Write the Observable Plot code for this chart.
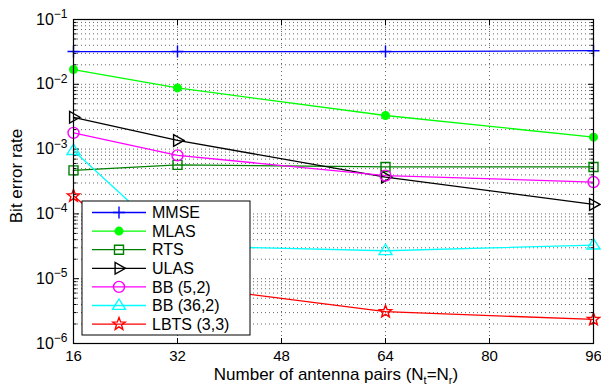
<!DOCTYPE html>
<html><head><meta charset="utf-8">
<script src="https://cdn.jsdelivr.net/npm/d3@7"></script>
<script src="https://cdn.jsdelivr.net/npm/@observablehq/plot@0.6"></script>
<style>
body{margin:0;background:#fff;}
#chart svg{display:block;}
</style>
</head><body><div id="chart"></div>
<script>
// ---- data ----
const antennaPairs = [16, 32, 64, 96];
const mmse  = [0.032, 0.032, 0.032, 0.033];
const mlas  = [0.0169, 0.0088, 0.0033, 0.00153];
const rts   = [4.7e-4, 5.7e-4, 5.3e-4, 5.3e-4];
const ulas  = [3.1e-3, 1.36e-3, 3.7e-4, 1.4e-4];
const bb52  = [1.78e-3, 8.0e-4, 3.9e-4, 3.1e-4];
const bb362 = [9.5e-4, 3.2e-5, 2.7e-5, 3.3e-5];
const lbts  = [1.9e-4, 8.0e-6, 3.1e-6, 2.35e-6];
const seriesNames = ["MMSE", "MLAS", "RTS", "ULAS", "BB (5,2)", "BB (36,2)", "LBTS (3,3)"];
const xTicks = [16, 32, 48, 64, 80, 96];
const yTicks = [1e-6, 1e-5, 1e-4, 1e-3, 1e-2, 1e-1];

// ---- styling ----
const colors = ["#0000ff", "#00ff00", "#008000", "#000000", "#ff00ff", "#00ffff", "#ff0000"];
const values = [mmse, mlas, rts, ulas, bb52, bb362, lbts];

const sym = {
  plus: {draw(c, s){const r=Math.sqrt(s/Math.PI); c.moveTo(-r,0); c.lineTo(r,0); c.moveTo(0,-r); c.lineTo(0,r);}},
  dot: {draw(c, s){const r=Math.sqrt(s/Math.PI); c.moveTo(r,0); c.arc(0,0,r,0,2*Math.PI);}},
  square: {draw(c, s){const r=Math.sqrt(s/Math.PI); c.rect(-r,-r,2*r,2*r);}},
  tright: {draw(c, s){const r=Math.sqrt(s/Math.PI); c.moveTo(r,0); c.lineTo(-r*0.6,-r*0.9); c.lineTo(-r*0.6,r*0.9); c.closePath();}},
  circle: {draw(c, s){const r=Math.sqrt(s/Math.PI); c.moveTo(r,0); c.arc(0,0,r,0,2*Math.PI);}},
  tup: {draw(c, s){const r=Math.sqrt(s/Math.PI); c.moveTo(0,-r); c.lineTo(r*1.0,r*0.6); c.lineTo(-r*1.0,r*0.6); c.closePath();}},
  star: {draw(c, s){const r=Math.sqrt(s/Math.PI); const ri=r*0.42;
    for(let k=0;k<10;k++){const a=-Math.PI/2+k*Math.PI/5; const rr=k%2?ri:r; const px=rr*Math.cos(a), py=rr*Math.sin(a); k?c.lineTo(px,py):c.moveTo(px,py);} c.closePath();}}
};
const markers = [
  {symbol: sym.plus, r: 6, fill: "none"},
  {symbol: sym.dot, r: 3.8, fill: "fill"},
  {symbol: sym.square, r: 4.5, fill: "none"},
  {symbol: sym.tright, r: 6.5, fill: "none"},
  {symbol: sym.circle, r: 5.5, fill: "none"},
  {symbol: sym.tup, r: 6.5, fill: "none"},
  {symbol: sym.star, r: 6.5, fill: "none"}
];

const rows = seriesNames.map((name, i) => antennaPairs.map((x, j) => ({name, x, y: values[i][j]})));

const minor = [];
for (let e = -6; e <= -2; e++) for (let m = 2; m <= 9; m++) minor.push(m * Math.pow(10, e));
const gridY = minor.concat([1e-5, 1e-4, 1e-3, 1e-2]);
const gridX = [32, 48, 64, 80];

const marks = [
  Plot.ruleY(gridY, {y: d => d, stroke: "#000", strokeOpacity: 0.75, strokeWidth: 0.8, strokeDasharray: "1,3"}),
  Plot.ruleX(gridX, {x: d => d, stroke: "#000", strokeOpacity: 0.75, strokeWidth: 0.8, strokeDasharray: "1,3"}),
  Plot.axisX({ticks: xTicks, tickSize: -5, tickPadding: 12, tickFormat: d => String(d), fontSize: 15, label: null}),
  Plot.axisX({anchor: "top", ticks: xTicks, tickSize: -5, tickFormat: () => "", label: null}),
  Plot.axisY({ticks: yTicks, tickSize: -6, tickPadding: 12, tickFormat: d => "10^" + Math.round(Math.log10(d)), fontSize: 16, label: null}),
  Plot.axisY({ticks: minor, tickSize: -3.5, tickFormat: () => "", label: null}),
  Plot.axisY({anchor: "right", ticks: yTicks, tickSize: -6, tickFormat: () => "", label: null}),
  Plot.axisY({anchor: "right", ticks: minor, tickSize: -3.5, tickFormat: () => "", label: null})
];
rows.forEach((data, i) => {
  marks.push(Plot.line(data, {x: "x", y: "y", stroke: colors[i], strokeWidth: 1.3}));
});
rows.forEach((data, i) => {
  const mk = markers[i];
  marks.push(Plot.dot(data, {x: "x", y: "y", symbol: () => mk.symbol, r: mk.r,
    stroke: colors[i], strokeWidth: 1.4, fill: mk.fill === "fill" ? colors[i] : "none"}));
});
marks.push(Plot.frame({stroke: "#000", strokeWidth: 1.2}));

const chart = Plot.plot({
  width: 601, height: 385,
  marginLeft: 73, marginRight: 8, marginTop: 19, marginBottom: 42,
  style: {fontFamily: "'Liberation Sans', Arial, sans-serif", color: "#000", background: "#fff"},
  x: {domain: [16, 96]},
  y: {type: "log", domain: [1e-6, 1e-1]},
  symbol: {type: "identity"},
  marks
});
document.getElementById("chart").appendChild(chart);

const svg = d3.select(chart);
const ff = "'Liberation Sans', Arial, sans-serif";

// superscripted y tick labels
svg.selectAll('g[aria-label="y-axis tick label"] text').each(function(){
  const t = this.textContent;
  const m = t.match(/10\^(-?\d+)/);
  if (!m) return;
  const el = d3.select(this);
  el.text(null);
  el.append("tspan").text("10");
  el.append("tspan").attr("dy", "-0.55em").attr("font-size", 12).text("\u2212" + Math.abs(+m[1]));
});

// axis titles
svg.append("text").attr("x", 336).attr("y", 380).attr("text-anchor", "middle")
  .attr("font-family", ff).attr("font-size", 17).attr("fill", "#000")
  .call(t => {
    t.append("tspan").text("Number of antenna pairs (N");
    t.append("tspan").attr("font-size", 11).attr("dy", 4).text("t");
    t.append("tspan").attr("dy", -4).text("=N");
    t.append("tspan").attr("font-size", 11).attr("dy", 4).text("r");
    t.append("tspan").attr("dy", -4).text(")");
  });
svg.append("text").attr("transform", "translate(22,176) rotate(-90)").attr("text-anchor", "middle")
  .attr("font-family", ff).attr("font-size", 17).attr("fill", "#000").text("Bit error rate");

// legend
const lg = svg.append("g");
lg.append("rect").attr("x", 82).attr("y", 201).attr("width", 168).attr("height", 134)
  .attr("fill", "#fff").attr("stroke", "#000").attr("stroke-width", 1);
seriesNames.forEach((name, i) => {
  const y = 212.5 + i * 18.6;
  lg.append("line").attr("x1", 92).attr("x2", 146).attr("y1", y).attr("y2", y)
    .attr("stroke", colors[i]).attr("stroke-width", 1.3);
  const mk = markers[i];
  lg.append("path").attr("transform", `translate(119,${y})`)
    .attr("d", d3.symbol(mk.symbol, Math.PI * mk.r * mk.r)())
    .attr("stroke", colors[i]).attr("stroke-width", 1.4)
    .attr("fill", mk.fill === "fill" ? colors[i] : "none");
  lg.append("text").attr("x", 152).attr("y", y).attr("dy", "0.36em").attr("text-anchor", "start")
    .attr("font-family", ff).attr("font-size", 16).attr("fill", "#000").text(name);
});
</script>
</body></html>
